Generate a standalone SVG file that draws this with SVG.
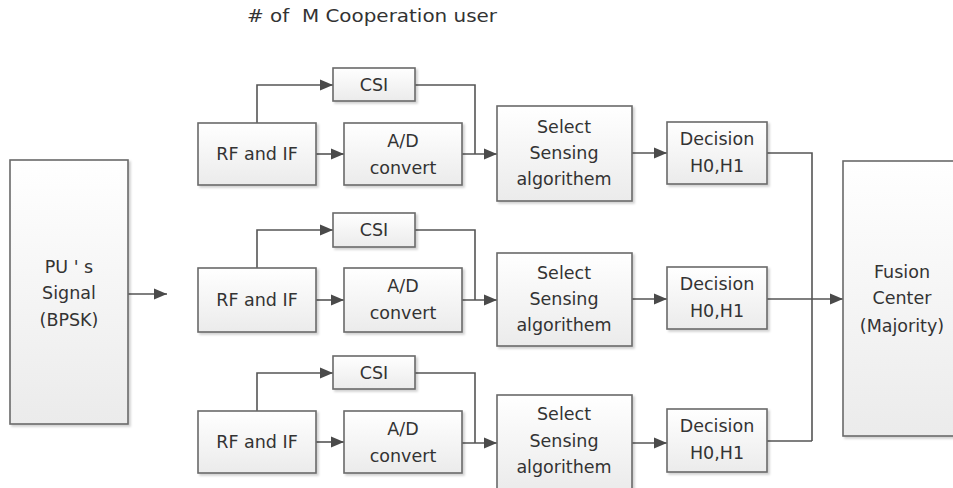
<svg xmlns="http://www.w3.org/2000/svg" width="953" height="488" viewBox="0 0 953 488">
<defs>
<linearGradient id="g" x1="0" y1="0" x2="0" y2="1">
<stop offset="0" stop-color="#ffffff"/>
<stop offset="1" stop-color="#ebebeb"/>
</linearGradient>
<filter id="sh" x="-10%" y="-10%" width="130%" height="130%">
<feDropShadow dx="2" dy="2" stdDeviation="1" flood-color="#000" flood-opacity="0.18"/>
</filter>
<marker id="ar" markerUnits="userSpaceOnUse" markerWidth="14" markerHeight="12" refX="13" refY="6" orient="auto">
<path d="M0,0.5 L13,6 L0,11.5 Z" fill="#4a4a4a"/>
</marker>
</defs>
<style>
.box{fill:url(#g);stroke:#6a6a6a;stroke-width:1.6;filter:url(#sh)}
.t{font-family:"DejaVu Sans",Verdana,sans-serif;font-size:17.5px;fill:#333;text-anchor:middle;dominant-baseline:central}
.c{fill:none;stroke:#555;stroke-width:1.6}
.a{marker-end:url(#ar)}
</style>
<rect width="953" height="488" fill="#fff"/>
<text class="t" x="247" y="16" style="text-anchor:start;white-space:pre" textLength="250" lengthAdjust="spacingAndGlyphs"># of  M Cooperation user</text>

<g id="connectors">
<path class="c a" d="M128,294 H167"/>
<!-- row 1 -->
<path class="c a" d="M257,123 V85 H333"/>
<path class="c a" d="M316,154 H344"/>
<path class="c" d="M415,85 H475 V154"/>
<path class="c a" d="M462,154 H497"/>
<path class="c a" d="M632,153 H667"/>
<path class="c" d="M767,153 H812 V441"/>
<!-- row 2 -->
<path class="c a" d="M257,268 V230 H333"/>
<path class="c a" d="M316,300 H344"/>
<path class="c" d="M415,230 H475 V300"/>
<path class="c a" d="M462,300 H497"/>
<path class="c a" d="M632,299 H667"/>
<path class="c a" d="M767,299 H843"/>
<!-- row 3 -->
<path class="c a" d="M257,411 V373 H333"/>
<path class="c a" d="M316,442 H344"/>
<path class="c" d="M415,373 H475 V443"/>
<path class="c a" d="M462,443 H497"/>
<path class="c a" d="M632,443 H667"/>
<path class="c" d="M767,441 H812"/>
</g>

<g id="pu">
<rect class="box" x="10" y="160" width="118" height="264"/>
<text class="t" x="69" y="267">PU ' s</text>
<text class="t" x="69" y="293">Signal</text>
<text class="t" x="69" y="320">(BPSK)</text>
</g>

<g id="csi1"><rect class="box" x="333" y="68" width="82" height="33"/><text class="t" x="374" y="85">CSI</text></g>
<g id="rf1"><rect class="box" x="198" y="123" width="118" height="62"/><text class="t" x="257" y="154">RF and IF</text></g>
<g id="ad1"><rect class="box" x="344" y="123" width="118" height="62"/><text class="t" x="403" y="141">A/D</text><text class="t" x="403" y="168">convert</text></g>
<g id="sel1"><rect class="box" x="497" y="106" width="135" height="95"/><text class="t" x="564" y="127">Select</text><text class="t" x="564" y="153">Sensing</text><text class="t" x="564" y="179">algorithem</text></g>
<g id="dec1"><rect class="box" x="667" y="122" width="100" height="62"/><text class="t" x="717" y="139">Decision</text><text class="t" x="717" y="166">H0,H1</text></g>

<g id="csi2"><rect class="box" x="333" y="213" width="82" height="34"/><text class="t" x="374" y="230">CSI</text></g>
<g id="rf2"><rect class="box" x="198" y="268" width="118" height="64"/><text class="t" x="257" y="300">RF and IF</text></g>
<g id="ad2"><rect class="box" x="344" y="268" width="118" height="64"/><text class="t" x="403" y="286">A/D</text><text class="t" x="403" y="313">convert</text></g>
<g id="sel2"><rect class="box" x="497" y="253" width="135" height="93"/><text class="t" x="564" y="273">Select</text><text class="t" x="564" y="299">Sensing</text><text class="t" x="564" y="325">algorithem</text></g>
<g id="dec2"><rect class="box" x="667" y="267" width="100" height="62"/><text class="t" x="717" y="284">Decision</text><text class="t" x="717" y="311">H0,H1</text></g>

<g id="csi3"><rect class="box" x="333" y="356" width="82" height="33"/><text class="t" x="374" y="373">CSI</text></g>
<g id="rf3"><rect class="box" x="198" y="411" width="118" height="62"/><text class="t" x="257" y="442">RF and IF</text></g>
<g id="ad3"><rect class="box" x="344" y="411" width="118" height="62"/><text class="t" x="403" y="429">A/D</text><text class="t" x="403" y="456">convert</text></g>
<g id="sel3"><rect class="box" x="497" y="395" width="135" height="96"/><text class="t" x="564" y="414">Select</text><text class="t" x="564" y="441">Sensing</text><text class="t" x="564" y="467">algorithem</text></g>
<g id="dec3"><rect class="box" x="667" y="409" width="100" height="63"/><text class="t" x="717" y="426">Decision</text><text class="t" x="717" y="453">H0,H1</text></g>

<g id="fusion">
<rect class="box" x="843" y="161" width="120" height="275"/>
<text class="t" x="902" y="272">Fusion</text>
<text class="t" x="902" y="298">Center</text>
<text class="t" x="902" y="326">(Majority)</text>
</g>
</svg>
